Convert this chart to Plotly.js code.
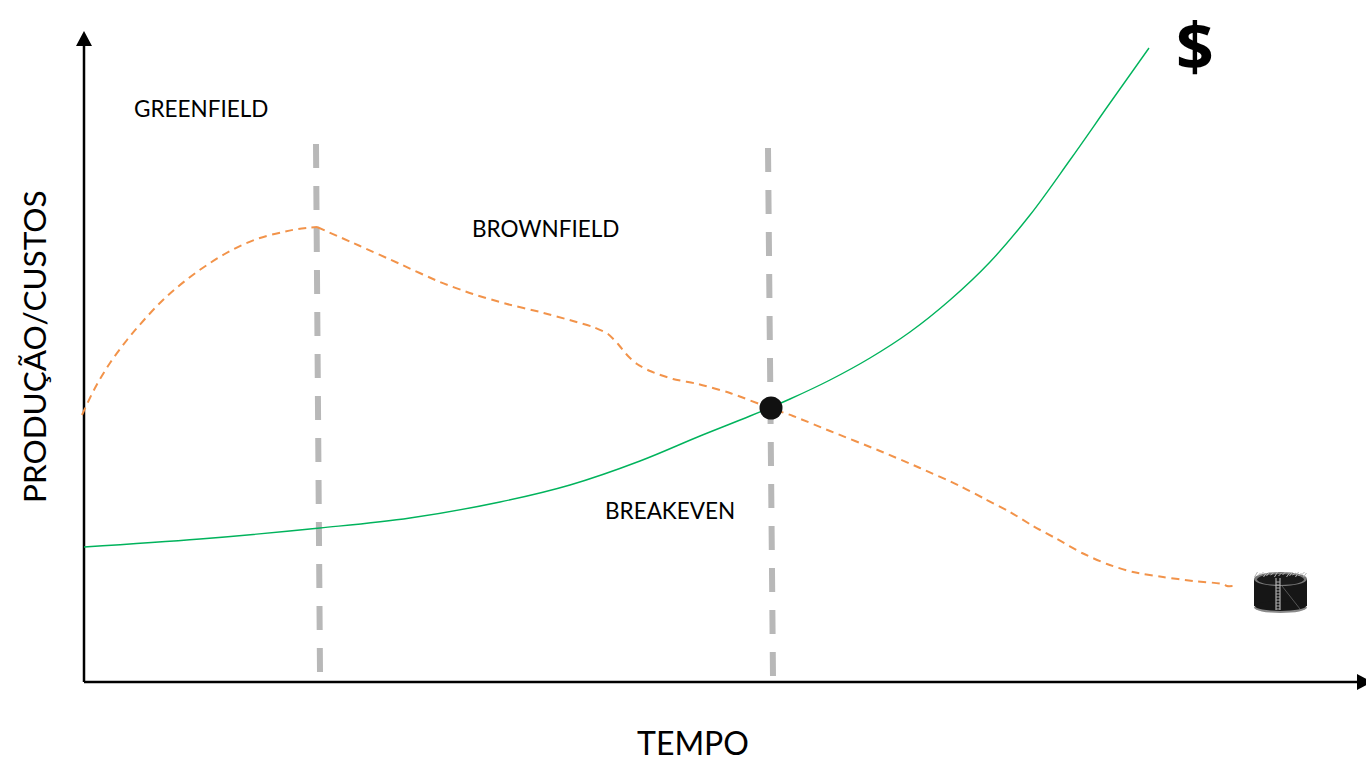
<!DOCTYPE html>
<html>
<head>
<meta charset="utf-8">
<script src="https://cdn.plot.ly/plotly-3.0.1.min.js"></script>
<style>html,body{margin:0;padding:0;background:#fff;overflow:hidden}#chart{width:1366px;height:761px}</style>
</head>
<body>
<div id="chart"></div>
<script>
// Values; time runs to the right, level runs upward.
const riseTime = [82,95,110,127,144,165,185,207,232,257,283,298,317];
const riseLevel = [346,373,398,421,441,463,480,496,511,522,529,532,534];
const declineTime = [317,360,400,440,473,507,540,573,593,608,618,628,637,650,673,698,730,770,793,830,880,920,960,985,1010,1033,1057,1082,1107,1133,1163,1193,1223,1227,1233];
const declineLevel = [534,515,497,479,467,457,449,440,434,427,417,405,397,390,382,377,368,353,345,330,310,293,275,262,249,235,222,208,197,189,184,180,177,175,175];
const costTime = [84,200,320,410,500,570,640,700,750,790,830,870,910,950,990,1030,1070,1110,1149];
const costLevel = [214,222,233,243,259,276,300,325,345,362,381,403,429,461,499,546,601,658,713];
const phase1Time = [316,320];
const phase1Level = [617,89];
const phase2Time = [768,773];
const phase2Level = [613,84];
const breakevenTime = [771];
const breakevenLevel = [353];
const axisYTime = [84,84];
const axisYLevel = [79,716];
const axisXTime = [84,1358];
const axisXLevel = [79,79];
const arrowUpTime = [76,84,92,76];
const arrowUpLevel = [715,730,715,715];
const arrowRightTime = [1357,1372,1357,1357];
const arrowRightLevel = [87,79,71,87];
const labels = ["GREENFIELD","BROWNFIELD","BREAKEVEN"];
const labelTime = [201,545,670];
const labelLevel = [652,532,250];
const ladderRungs = [179,176,173,170,167,164,161,158,155,152];
const fringeTime = [1256,1259,1262,1265,1268,1272,1276,1280,1284,1288,1291,1294,1297,1300,1303,1305];

const ORANGE = "#f2934a", GREEN = "#00b35c", GREY = "#b8b8b8", BLACK = "#000";
const line = (x,y,color,width,extra={}) => ({x,y,mode:"lines",hoverinfo:"skip",showlegend:false,
  line:Object.assign({color,width},extra)});
const fill = (x,y,color) => ({x,y,mode:"lines",fill:"toself",fillcolor:color,hoverinfo:"skip",showlegend:false,
  line:{color,width:0}});

const traces = [
  line(phase1Time,phase1Level,GREY,6,{dash:"24px,18px"}),
  line(phase2Time,phase2Level,GREY,6,{dash:"24px,18px"}),
  line(axisYTime,axisYLevel,BLACK,2.5),
  line(axisXTime,axisXLevel,BLACK,2.5),
  fill(arrowUpTime,arrowUpLevel,BLACK),
  fill(arrowRightTime,arrowRightLevel,BLACK),
  line(costTime,costLevel,GREEN,1.4,{shape:"spline",smoothing:1}),
  line(riseTime,riseLevel,ORANGE,2,{shape:"spline",smoothing:1,dash:"8px,5.5px"}),
  line(declineTime,declineLevel,ORANGE,2,{shape:"spline",smoothing:0.7,dash:"8px,5.5px"}),
  {x:breakevenTime,y:breakevenLevel,mode:"markers",hoverinfo:"skip",showlegend:false,
   marker:{color:"#111",size:23,line:{width:0}}}
];

const text = (x,y,t,size,extra={}) => Object.assign({x,y,text:t,xref:"x",yref:"y",showarrow:false,
  xanchor:"center",yanchor:"middle",font:{family:"Lato, 'Open Sans', sans-serif",size,color:"#000"}},extra);
const annotations = labels.map((t,i)=>text(labelTime[i],labelLevel[i]+1,t,22.5));
annotations.push(text(693,0,"TEMPO",32,{yanchor:"bottom",yshift:-3}));
annotations.push(text(34,414,"PRODUÇÃO/CUSTOS",31.5,{textangle:-90}));
annotations.push(text(1195,716,"$",66,{font:{family:"'Open Sans', sans-serif",size:66,color:"#000",weight:700}}));

const shape = (o) => Object.assign({xref:"x",yref:"y",layer:"above",line:{width:0}},o);
const shapes = [
  // storage tank icon
  shape({type:"rect",x0:1254,x1:1307,y0:155,y1:182,fillcolor:"#161616"}),
  shape({type:"circle",x0:1254,x1:1307,y0:148,y1:159,fillcolor:"#8a8a8a"}),
  shape({type:"circle",x0:1255,x1:1306,y0:150,y1:160,fillcolor:"#161616"}),
  shape({type:"circle",x0:1254,x1:1307,y0:175,y1:189,fillcolor:"#777"}),
  shape({type:"circle",x0:1257,x1:1304,y0:176,y1:187,fillcolor:"#1a1a1a"}),
  shape({type:"line",x0:1282,x1:1300,y0:175,y1:152,line:{color:"#555",width:1}}),
  shape({type:"line",x0:1276,x1:1276,y0:151,y1:183,line:{color:"#c8c8c8",width:1}}),
  shape({type:"line",x0:1280,x1:1280,y0:151,y1:183,line:{color:"#c8c8c8",width:1}})
];
ladderRungs.forEach(y=>shapes.push(shape({type:"line",x0:1276,x1:1280,y0:y,y1:y,line:{color:"#aaa",width:1}})));
fringeTime.forEach((x,i)=>shapes.push(shape({type:"line",x0:x-1.5,x1:x+1.5,y0:184+(i%3),y1:189-(i%2),
  line:{color:"#b5b5b5",width:1}})));

const hidden = {visible:false,fixedrange:true};
Plotly.newPlot("chart",traces,{
  width:1366,height:761,margin:{l:0,r:0,t:0,b:0},
  paper_bgcolor:"#fff",plot_bgcolor:"#fff",showlegend:false,
  xaxis:Object.assign({range:[0,1366]},hidden),
  yaxis:Object.assign({range:[0,761]},hidden),
  annotations,shapes
},{displayModeBar:false,staticPlot:true});
</script>
</body>
</html>
